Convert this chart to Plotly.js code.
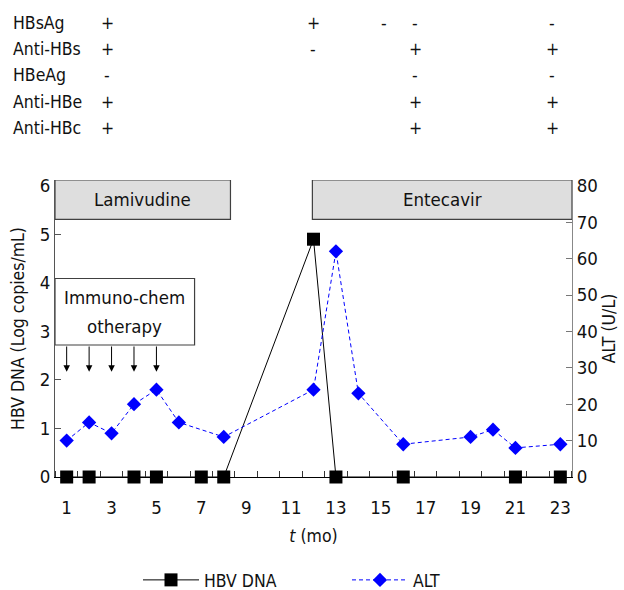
<!DOCTYPE html>
<html>
<head>
<meta charset="utf-8">
<script src="https://cdn.plot.ly/plotly-3.0.1.min.js"></script>
<style>
  html, body { margin: 0; padding: 0; background: #fff; }
  #chart { width: 624px; height: 590px; }
</style>
</head>
<body>
<div id="chart"></div>
<script>
// Follow-up months and measurements
const dnaMonths = [1, 2, 4, 5, 7, 8, 12, 13, 16, 21, 23];
const dnaLog    = [0, 0, 0, 0, 0, 0, 4.9, 0, 0, 0, 0];

const altMonths = [1, 2, 3, 4, 5, 6, 8, 12, 13, 14, 16, 19, 20, 21, 23];
const altValues = [10, 15, 12, 20, 24, 15, 11, 24, 62, 23, 9, 11, 13, 8, 9];

// Serology table
const markerNames = ['HBsAg', 'Anti-HBs', 'HBeAg', 'Anti-HBe', 'Anti-HBc'];
const serology = [
  ['+', '+', '-', '-', '-'],
  ['+', '-', '',  '+', '+'],
  ['-', '',  '',  '-', '-'],
  ['+', '',  '',  '+', '+'],
  ['+', '',  '',  '+', '+']
];

// Treatment periods and chemotherapy courses
const immunoMonths = [1, 2, 3, 4, 5];
const xTicks = [1, 3, 5, 7, 9, 11, 13, 15, 17, 19, 21, 23];
const leftTicks = [0, 1, 2, 3, 4, 5, 6];
const rightTicks = [0, 10, 20, 30, 40, 50, 60, 70, 80];

const FONT = '"DejaVu Sans Condensed", "DejaVu Sans", Tahoma, sans-serif';

const W = 624, H = 590;
const M = { l: 55, r: 52, t: 180, b: 113 };
const plotW = W - M.l - M.r, plotH = H - M.t - M.b;
const px = v => (v - M.l) / plotW;          // page pixel -> paper x
const py = v => (H - M.b - v) / plotH;      // page pixel -> paper y
const cx = v => v / W;                      // page pixel -> container x
const cy = v => 1 - v / H;                  // page pixel -> container y

const traces = [
  {
    x: dnaMonths, y: dnaLog, name: 'HBV DNA',
    type: 'scatter', mode: 'lines+markers', cliponaxis: false,
    line: { color: '#000000', width: 1 },
    marker: { symbol: 'square', size: 13, color: '#000000' }
  },
  {
    x: altMonths, y: altValues, name: 'ALT', yaxis: 'y2',
    type: 'scatter', mode: 'lines+markers', cliponaxis: false,
    line: { color: '#0000ff', width: 1, dash: '4px,3px' },
    marker: { symbol: 'diamond', size: 11, color: '#0000ff' }
  }
];

const annotations = [];
const shapes = [];
const textFont = { family: FONT, size: 17.5, color: '#111' };
const boxFont = { family: FONT, size: 18.5, color: '#111' };

// serology table above the plot
const colPx = [107, 313, 384, 415, 552];
const rowPx = [23, 49, 75, 101.5, 128];
markerNames.forEach((name, r) => {
  annotations.push({
    xref: 'paper', yref: 'paper', x: px(11), y: py(rowPx[r]),
    xanchor: 'left', yanchor: 'middle', showarrow: false,
    text: name, font: textFont
  });
  serology[r].forEach((s, c) => {
    if (!s) return;
    annotations.push({
      xref: 'paper', yref: 'paper', x: px(colPx[c]), y: py(rowPx[r]),
      xanchor: 'center', yanchor: 'middle', showarrow: false,
      text: s, font: textFont
    });
  });
});

// treatment boxes
const boxLine = { color: '#404040', width: 1.2 };
shapes.push({ type: 'rect', xref: 'x', yref: 'y', x0: 0.48, x1: 8.3, y0: 5.31, y1: 6.12,
  fillcolor: '#dedede', line: boxLine, layer: 'above' });
shapes.push({ type: 'rect', xref: 'x', yref: 'y', x0: 11.95, x1: 23.52, y0: 5.31, y1: 6.12,
  fillcolor: '#dedede', line: boxLine, layer: 'above' });
shapes.push({ type: 'rect', xref: 'x', yref: 'y', x0: 0.48, x1: 6.7, y0: 2.72, y1: 4.09,
  fillcolor: '#ffffff', line: boxLine, layer: 'above' });

annotations.push({ xref: 'x', yref: 'y', x: 4.39, y: 5.72, showarrow: false,
  text: 'Lamivudine', font: boxFont });
annotations.push({ xref: 'x', yref: 'y', x: 17.73, y: 5.72, showarrow: false,
  text: 'Entecavir', font: boxFont });
annotations.push({ xref: 'x', yref: 'y', x: 3.59, y: 3.69, showarrow: false,
  text: 'Immuno-chem', font: boxFont });
annotations.push({ xref: 'x', yref: 'y', x: 3.59, y: 3.10, showarrow: false,
  text: 'otherapy', font: boxFont });

// chemotherapy course arrows
immunoMonths.forEach(m => {
  annotations.push({
    xref: 'x', yref: 'y', axref: 'x', ayref: 'y',
    x: m, y: 2.17, ax: m, ay: 2.72, text: '',
    showarrow: true, arrowhead: 2, arrowsize: 1.3, arrowwidth: 1,
    arrowcolor: '#000', standoff: 0, startstandoff: 0
  });
});

const layout = {
  width: W, height: H,
  margin: { l: M.l, r: M.r, t: M.t, b: M.b, pad: 0, autoexpand: false },
  paper_bgcolor: '#ffffff', plot_bgcolor: '#ffffff',
  font: textFont,
  showlegend: true,
  legend: {
    orientation: 'h', xref: 'container', yref: 'container',
    x: cx(138), y: cy(580), xanchor: 'left', yanchor: 'middle',
    font: textFont, itemwidth: 56, entrywidth: 138, bgcolor: 'rgba(0,0,0,0)'
  },
  xaxis: {
    range: [0.48, 23.52], tickmode: 'array', tickvals: xTicks,
    ticks: '', showgrid: false, zeroline: false,
    showline: true, linecolor: '#000', linewidth: 1,
    tickfont: boxFont,
    ticklabelstandoff: 14,
    minor: { tick0: 0.5, dtick: 1, ticks: 'inside', ticklen: 6, tickcolor: '#333', showgrid: false },
    title: { text: '<i>t</i> (mo)', font: textFont, standoff: 12 }
  },
  yaxis: {
    range: [0, 6.12], tickmode: 'array', tickvals: leftTicks,
    ticks: 'inside', ticklen: 6, tickcolor: '#555',
    showgrid: false, zeroline: false,
    showline: true, linecolor: '#555', linewidth: 1,
    tickfont: boxFont,
    title: { text: 'HBV DNA (Log copies/mL)', font: textFont, standoff: 10 }
  },
  yaxis2: {
    overlaying: 'y', side: 'right', range: [0, 81.6],
    tickmode: 'array', tickvals: rightTicks,
    ticks: 'inside', ticklen: 6, tickcolor: '#777',
    showgrid: false, zeroline: false,
    showline: true, linecolor: '#888', linewidth: 1,
    tickfont: boxFont,
    title: { text: 'ALT (U/L)', font: textFont, standoff: 5 }
  },
  shapes: shapes,
  annotations: annotations
};

Plotly.newPlot('chart', traces, layout, { displayModeBar: false, staticPlot: true });
</script>
</body>
</html>
